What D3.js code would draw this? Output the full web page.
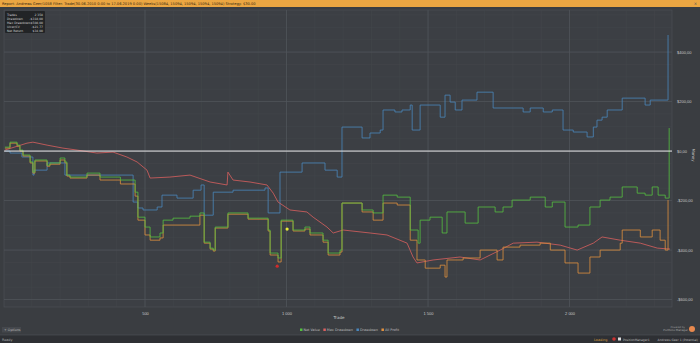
<!DOCTYPE html>
<html lang="en">
<head>
<meta charset="UTF-8">
<title>Report</title>
<script src="https://cdn.jsdelivr.net/npm/d3@7"></script>
<style>
  * { box-sizing: border-box; }
  body { margin: 0; background: #3a3d41; }
  svg { display: block; font-family: "DejaVu Sans", sans-serif; }
</style>
</head>
<body>
<svg id="chart" width="700" height="343"></svg>
<script>
// [trade, money]
var drawdown = [[5,0],[23,-8],[65,-24],[104,-97],[108,-77],[154,-48],[217,-97],[458,-206],[475,-230],[493,-238],
  [543,-226],[560,-178],[613,-190],[670,-158],[698,-137],[709,-259],[741,-166],[811,-158],[924,-149],[935,-250],
  [977,-85],[1055,-48],[1136,-77],[1179,-105],[1196,97],[1267,53],[1295,73],[1331,85],[1341,166],[1383,158],
  [1408,166],[1437,186],[1444,85],[1472,186],[1543,137],[1560,226],[1578,198],[1596,166],[1620,206],[1673,238],
  [1730,174],[1836,158],[1861,174],[1907,158],[1939,166],[1977,85],[2013,77],[2062,57],[2084,97],[2097,125],
  [2115,137],[2133,166],[2186,214],[2267,186],[2285,206],[2345,206],[2348,469]];

var maxDrawdown = [[5,4],[83,32],[104,36],[154,24],[210,12],[260,4],[330,-8],[387,-4],[436,-24],[472,-44],
  [507,-77],[518,-109],[588,-105],[659,-97],[730,-125],[790,-137],[793,-85],[811,-117],[871,-125],[931,-137],
  [953,-170],[970,-206],[1012,-238],[1072,-246],[1094,-267],[1143,-307],[1165,-331],[1200,-319],[1295,-331],
  [1355,-339],[1426,-372],[1447,-428],[1461,-452],[1518,-440],[1613,-428],[1684,-440],[1755,-400],[1801,-372],
  [1885,-368],[1967,-380],[2027,-400],[2084,-372],[2115,-347],[2179,-360],[2250,-372],[2310,-392],[2355,-396]];

var allProfit = [[5,12],[23,32],[48,20],[58,0],[69,-20],[94,-48],[104,-89],[111,-40],[154,-61],[164,-53],
  [200,-36],[217,-48],[224,-101],[235,-109],[295,-97],[341,-117],[413,-133],[465,-182],[475,-279],[500,-339],
  [518,-360],[553,-351],[564,-299],[659,-299],[694,-259],[709,-372],[730,-396],[741,-404],[748,-311],[793,-255],
  [864,-275],[935,-323],[942,-420],[970,-448],[981,-283],[1023,-323],[1065,-315],[1083,-339],[1129,-368],
  [1147,-420],[1189,-408],[1196,-210],[1267,-246],[1306,-279],[1341,-210],[1391,-218],[1437,-360],[1461,-440],
  [1490,-473],[1543,-461],[1560,-509],[1567,-440],[1624,-432],[1684,-400],[1744,-440],[1765,-388],[1825,-380],
  [1896,-372],[1932,-400],[1984,-452],[2030,-493],[2072,-428],[2108,-400],[2179,-372],[2186,-319],[2250,-347],
  [2292,-319],[2320,-360],[2338,-400],[2348,-198]];

var netValue = [[5,16],[23,36],[48,24],[58,4],[69,-16],[94,-44],[104,-85],[111,-36],[154,-57],[164,-48],
  [200,-28],[217,-44],[224,-97],[235,-105],[295,-89],[341,-105],[413,-117],[465,-166],[475,-267],[500,-307],
  [518,-347],[553,-331],[564,-279],[599,-271],[659,-263],[694,-250],[709,-368],[730,-392],[741,-400],[748,-307],
  [793,-250],[864,-271],[935,-319],[942,-412],[970,-432],[981,-279],[1023,-319],[1065,-307],[1083,-331],
  [1129,-360],[1147,-412],[1189,-400],[1196,-210],[1267,-238],[1306,-250],[1341,-178],[1391,-186],[1437,-319],
  [1465,-372],[1472,-279],[1507,-267],[1550,-331],[1567,-246],[1631,-291],[1677,-226],[1737,-246],[1765,-226],
  [1797,-198],[1861,-186],[1914,-226],[1939,-206],[1984,-307],[2030,-299],[2072,-226],[2108,-198],[2143,-186],
  [2186,-145],[2239,-170],[2267,-178],[2292,-145],[2313,-178],[2338,-190],[2350,-190],[2352,93]];

var markers = [{t: 1002, v: -315, c: "#e8e83a"}, {t: 967, v: -465, c: "#d22b2b"}];

var xTicks = [500, 1000, 1500, 2000];
var yTicks = [-600, -400, -200, 0, 200, 400];
var seriesNames = ["Net Value", "Max Drawdown", "Drawdown", "All Profit"];
var seriesColors = ["#55c040", "#d9605e", "#4a88bd", "#e0903e"];

var stats = [["Trades", "2 358"], ["Drawdown", "-$318,00"], ["Max Drawdown", "-$508,00"], ["Ulcer/CV", "-$21,77"], ["Net Return", "$34,00"]];

var svg = d3.select("#chart");
var W = 700, H = 343;
var plot = {l: 4, r: 672, t: 10, b: 307};

var x = d3.scaleLinear().domain([0, 2362]).range([3.5, 672]);
var y = d3.scaleLinear().domain([-630, 570]).range([307, 10]);

function money(v) {
  var s = d3.format(".2f")(Math.abs(v)).replace(".", ",");
  return (v < 0 ? "-$" : "$") + s;
}

// background
svg.append("rect").attr("width", W).attr("height", H).attr("fill", "#3a3d41");
svg.append("rect").attr("x", plot.l).attr("y", plot.t).attr("width", plot.r - plot.l).attr("height", plot.b - plot.t)
  .attr("fill", "#3c3f44").attr("stroke", "#4e5258").attr("stroke-width", 0.6);

// title bar
svg.append("rect").attr("x", 0).attr("y", 0).attr("width", W).attr("height", 7).attr("fill", "#eba642");
svg.append("text").attr("x", 2).attr("y", 5).attr("font-size", 3.6).attr("fill", "#3a2a10")
  .text("Report: Andrews Geer/1058  Filter: Trade(30.06.2010 0:00 to 17.06.2019 0:00) Weeks(15084, 15094, 15094, 15094, 15094)  Strategy: $30.00");
svg.append("text").attr("x", 697).attr("y", 5).attr("font-size", 4).attr("fill", "#555").attr("text-anchor", "end").text("×");

// minor grid
var g = svg.append("g");
g.selectAll("line.vx").data(d3.range(100, 2362, 100)).join("line")
  .attr("x1", d => x(d)).attr("x2", d => x(d)).attr("y1", plot.t).attr("y2", plot.b)
  .attr("stroke", "#45484d").attr("stroke-width", 0.5);
g.selectAll("line.hy").data(d3.range(-600, 570, 50)).join("line")
  .attr("y1", d => y(d)).attr("y2", d => y(d)).attr("x1", plot.l).attr("x2", plot.r)
  .attr("stroke", "#45484d").attr("stroke-width", 0.5);
// major grid
g.selectAll("line.mx").data(xTicks).join("line")
  .attr("x1", d => x(d)).attr("x2", d => x(d)).attr("y1", plot.t).attr("y2", plot.b)
  .attr("stroke", "#52565c").attr("stroke-width", 0.7);
g.selectAll("line.my").data(yTicks).join("line")
  .attr("y1", d => y(d)).attr("y2", d => y(d)).attr("x1", plot.l).attr("x2", plot.r)
  .attr("stroke", "#52565c").attr("stroke-width", 0.7);

// axes
var xAxis = d3.axisBottom(x).tickValues(xTicks).tickSize(0).tickPadding(5)
  .tickFormat(d => d3.format(",")(d).replace(/,/g, " "));
var gx = svg.append("g").attr("transform", "translate(0," + plot.b + ")").call(xAxis);
gx.select(".domain").remove();
gx.selectAll("text").attr("font-size", 4).attr("fill", "#c8c8c8");

var yAxis = d3.axisRight(y).tickValues(yTicks).tickSize(0).tickPadding(5).tickFormat(money);
var gy = svg.append("g").attr("transform", "translate(" + plot.r + ",0)").call(yAxis);
gy.select(".domain").remove();
gy.selectAll("text").attr("font-size", 4).attr("fill", "#c8c8c8");

svg.append("text").attr("x", 339).attr("y", 319).attr("font-size", 4).attr("fill", "#c8c8c8")
  .attr("text-anchor", "middle").text("Trade");
svg.append("text").attr("transform", "translate(692,155) rotate(90)").attr("font-size", 4).attr("fill", "#c8c8c8")
  .attr("text-anchor", "middle").text("Money");

// series
var line = d3.line().x(d => x(d[0])).y(d => y(d[1])).curve(d3.curveStepAfter);
var lineSmooth = d3.line().x(d => x(d[0])).y(d => y(d[1]));
var sets = [
  {data: drawdown, color: seriesColors[2], gen: line},
  {data: maxDrawdown, color: seriesColors[1], gen: lineSmooth},
  {data: allProfit, color: seriesColors[3], gen: line},
  {data: netValue, color: seriesColors[0], gen: line}
];
sets.forEach(function(s) {
  svg.append("path").attr("d", s.gen(s.data)).attr("fill", "none")
    .attr("stroke", s.color).attr("stroke-width", 0.8);
});

// zero line
svg.append("line").attr("x1", plot.l).attr("x2", plot.r).attr("y1", y(0)).attr("y2", y(0))
  .attr("stroke", "#e6e6e6").attr("stroke-width", 1);

svg.selectAll("circle.mk").data(markers).join("circle")
  .attr("cx", d => x(d.t)).attr("cy", d => y(d.v)).attr("r", 1.6).attr("fill", d => d.c);

// stats box
var box = svg.append("g").attr("transform", "translate(5,11)");
box.append("rect").attr("width", 40).attr("height", 22).attr("rx", 1).attr("fill", "#1f2124").attr("opacity", 0.9);
stats.forEach(function(r, i) {
  box.append("text").attr("x", 2).attr("y", 4.5 + i * 4).attr("font-size", 3).attr("fill", "#d0d0d0").text(r[0]);
  box.append("text").attr("x", 38).attr("y", 4.5 + i * 4).attr("font-size", 3).attr("fill", "#d0d0d0")
    .attr("text-anchor", "end").text(r[1]);
});

// legend
var lg = svg.append("g").attr("transform", "translate(300,330)");
var lx = 0;
seriesNames.forEach(function(n, i) {
  lg.append("rect").attr("x", lx).attr("y", -1.5).attr("width", 2.5).attr("height", 2.5).attr("fill", seriesColors[i]);
  var t = lg.append("text").attr("x", lx + 3.5).attr("y", 1).attr("font-size", 3.4).attr("fill", "#bbb").text(n);
  lx += t.node().getComputedTextLength() + 7;
});

// options button
svg.append("rect").attr("x", 2).attr("y", 327).attr("width", 19).attr("height", 5.5).attr("fill", "#45484d");
svg.append("text").attr("x", 4).attr("y", 331).attr("font-size", 3.3).attr("fill", "#bbb").text("+ Options");

// powered by
svg.append("text").attr("x", 685).attr("y", 327.5).attr("font-size", 2.5).attr("fill", "#999").attr("text-anchor", "end").text("Powered by");
svg.append("text").attr("x", 688).attr("y", 331).attr("font-size", 2.8).attr("fill", "#aaa").attr("text-anchor", "end").text("Portfolio Manager");
svg.append("circle").attr("cx", 692).attr("cy", 329).attr("r", 3).attr("fill", "#e8894e");

// status bar
svg.append("rect").attr("x", 0).attr("y", 335).attr("width", W).attr("height", 8).attr("fill", "#2e3034");
svg.append("line").attr("x1", 0).attr("x2", W).attr("y1", 335).attr("y2", 335).attr("stroke", "#55585d").attr("stroke-width", 0.5);
svg.append("text").attr("x", 2).attr("y", 340.5).attr("font-size", 3.4).attr("fill", "#aaa").text("Ready");
svg.append("text").attr("x", 594).attr("y", 340.5).attr("font-size", 3.4).attr("fill", "#d89a3a").text("Loading");
svg.append("circle").attr("cx", 614).attr("cy", 339).attr("r", 1.8).attr("fill", "#c83232");
svg.append("rect").attr("x", 618).attr("y", 337.5).attr("width", 3).attr("height", 3).attr("fill", "#ddd");
svg.append("text").attr("x", 623).attr("y", 340.5).attr("font-size", 3).attr("fill", "#bbb").text("PositionManager1");
svg.append("text").attr("x", 698).attr("y", 340.5).attr("font-size", 3).attr("fill", "#bbb")
  .attr("text-anchor", "end").text("Andrews Geer 1 (Potential)");
</script>
</body>
</html>
